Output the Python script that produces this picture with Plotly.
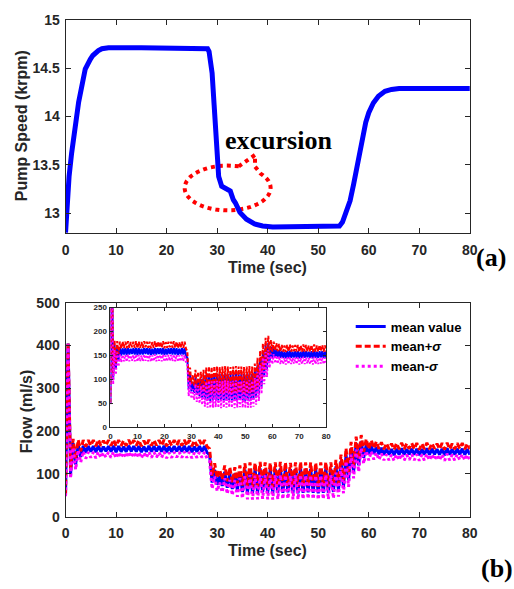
import math
import plotly.graph_objects as go

# ---------------- pump speed (panel a) ----------------
pump_t = [0, 0.3, 0.7, 1.2, 1.7, 2.6, 3.9, 4.4, 4.9, 5.4, 5.9, 6.5, 7.2, 8.5, 15, 20,
          27.8, 28.1, 28.4, 29.0, 29.4, 29.7, 30.0, 30.3, 30.9, 31.6, 32.3, 32.6,
          33.2, 33.6, 34.5, 34.8, 35.8, 37.4, 39.0, 41.0, 45, 50, 53.8, 54.2, 54.8,
          55.5, 56.3, 57.0, 57.6, 58.2, 58.8, 59.4, 60.0, 60.9, 61.9, 63.2, 64.5,
          66, 70, 80]
pump_krpm = [12.8, 13.1, 13.38, 13.62, 13.83, 14.15, 14.49, 14.55, 14.59, 14.63,
             14.66, 14.68, 14.70, 14.71, 14.71, 14.71,
             14.71, 14.70, 14.67, 14.45, 14.12, 13.78, 13.48, 13.38, 13.28, 13.26,
             13.24, 13.23, 13.14, 13.11, 13.01, 12.99, 12.94, 12.89, 12.87, 12.86,
             12.86, 12.86, 12.86, 12.87, 12.91, 13.00, 13.13, 13.30, 13.47, 13.64,
             13.80, 13.94, 14.04, 14.14, 14.21, 14.26, 14.28, 14.29, 14.29, 14.29]

# ---------------- flow (panel b) ----------------
# one entry per heart beat (beat onsets at 0, 1, 2, ... s)
beat_t = list(range(81))
mean_trough = [50, 100, 122, 140, 150, 152, 151, 152, 153, 152, 151, 152, 152, 153,
               152, 151, 152, 152, 153, 152, 151, 152, 153, 152, 152, 151, 152, 152,
               150, 80, 75, 72, 68, 65, 62, 58, 56, 55, 56, 57, 56, 55, 56, 56,
               57, 56, 55, 56, 57, 56, 55, 56, 56, 58, 62, 70, 85, 105, 120, 138,
               145, 147, 146, 145, 145, 144, 145, 145, 146, 145, 144, 145, 145, 146,
               145, 144, 145, 145, 146, 145, 145]
mean_peak = [405, 172, 168, 166, 165, 165, 166, 164, 165, 166, 165, 164, 166, 165,
             165, 164, 166, 165, 165, 166, 164, 165, 165, 166, 165, 164, 165, 165,
             145, 110, 95, 105, 101, 101, 105, 110, 112, 111, 113, 112, 111, 112,
             113, 112, 111, 112, 113, 112, 112, 111, 112, 113, 112, 118, 130, 145,
             160, 172, 176, 168, 166, 163, 161, 159, 158, 159, 160, 158, 159, 159,
             158, 160, 159, 158, 159, 160, 158, 159, 159, 158]
flow_sd = [2, 10, 12, 13, 14, 14, 14, 14, 14, 14, 14, 14, 14, 14,
           14, 14, 14, 14, 14, 14, 14, 14, 14, 14, 14, 14, 14, 14,
           14, 15, 15, 15, 15, 15, 15, 15, 15, 15, 15, 15, 15, 15, 15, 15,
           15, 15, 15, 15, 15, 15, 15, 15, 15, 15, 15, 15, 15, 15, 15, 14,
           13, 13, 13, 13, 13, 13, 13, 13, 13, 13, 13, 13, 13, 13,
           13, 13, 13, 13, 13, 13, 13]

x_ticks = [0, 10, 20, 30, 40, 50, 60, 70, 80]
pump_ticks = [13, 13.5, 14, 14.5, 15]
pump_ticklabels = ["13", "13.5", "14", "14.5", "15"]
flow_ticks = [0, 100, 200, 300, 400, 500]
inset_ticks = [0, 50, 100, 150, 200, 250]


def pulse(shift):
    """Beat-by-beat waveform: trough at each onset, peak half a beat later."""
    t, v = [], []
    for k in range(len(mean_peak)):
        t += [beat_t[k], beat_t[k] + 0.5]
        v += [mean_trough[k] + shift * flow_sd[k], mean_peak[k] + shift * flow_sd[k]]
    t.append(beat_t[-1])
    v.append(mean_trough[-1] + shift * flow_sd[-1])
    return t, v


W, H = 514, 589
AX = "#262626"
SANS = "Liberation Sans, Arial, sans-serif"
SERIF = "Liberation Serif, Times New Roman, serif"


def px_x(p):
    return p / W


def px_y(p):
    return 1 - p / H


fig = go.Figure()

fig.add_trace(go.Scatter(x=pump_t, y=pump_krpm, mode="lines",
                         line=dict(color="#0000FF", width=5),
                         showlegend=False, xaxis="x", yaxis="y"))

series = [("mean value", 0, "#0000FF", "solid", "solid"),
          ("mean+<i>σ</i>", 1, "#FF0000", "6px,3px", "4px,2px"),
          ("mean-<i>σ</i>", -1, "#FF00FF", "dot", "2px,2px")]

for name, s, col, dash, _ in series:
    t, v = pulse(s)
    fig.add_trace(go.Scatter(x=t, y=v, mode="lines", name=name,
                             line=dict(color=col, width=3, dash=dash),
                             xaxis="x2", yaxis="y2"))
for name, s, col, _, dash_in in series:
    t, v = pulse(s)
    fig.add_trace(go.Scatter(x=t, y=v, mode="lines", showlegend=False,
                             line=dict(color=col, width=2, dash=dash_in),
                             xaxis="x3", yaxis="y3"))

tick_font = dict(family=SANS, size=14, color=AX, weight="bold")
common = dict(showline=True, linecolor=AX, linewidth=1, mirror="ticks",
              ticks="inside", ticklen=5, tickcolor=AX, showgrid=False,
              zeroline=False, tickfont=tick_font)
inset_common = dict(showline=True, linecolor=AX, linewidth=1, mirror="ticks",
                    ticks="inside", ticklen=3, tickcolor=AX, showgrid=False,
                    zeroline=False, ticklabelstandoff=1,
                    tickfont=dict(family=SANS, size=8, color=AX, weight="bold"))

x_dom = [px_x(63), px_x(477)]
fig.update_layout(
    width=W, height=H,
    margin=dict(l=0, r=0, t=0, b=0),
    paper_bgcolor="white", plot_bgcolor="white",
    xaxis=dict(domain=x_dom, range=[0, 80], tickvals=x_ticks, anchor="y",
               ticklabelstandoff=4, **common),
    yaxis=dict(domain=[px_y(231), px_y(12)], range=[12.8, 15], tickvals=pump_ticks,
               ticktext=pump_ticklabels, anchor="x", ticklabelstandoff=2, **common),
    xaxis2=dict(domain=x_dom, range=[0, 80], tickvals=x_ticks, anchor="y2",
                ticklabelstandoff=3, **common),
    yaxis2=dict(domain=[px_y(523), px_y(303)], range=[0, 500], tickvals=flow_ticks,
                anchor="x2", ticklabelstandoff=2, **common),
    xaxis3=dict(domain=[px_x(109), px_x(330)], range=[0, 80], tickvals=x_ticks,
                anchor="y3", **inset_common),
    yaxis3=dict(domain=[px_y(431), px_y(308)], range=[0, 250], tickvals=inset_ticks,
                anchor="x3", **inset_common),
    legend=dict(x=px_x(355), y=px_y(312), xanchor="left", yanchor="top",
                bgcolor="rgba(0,0,0,0)", borderwidth=0,
                font=dict(family=SANS, size=13, color="black", weight="bold"),
                tracegroupgap=0, itemwidth=30),
)

title_font = dict(family=SANS, size=16, color=AX, weight="bold")
annos = [
    dict(text="Pump Speed (krpm)", x=px_x(18), y=px_y(121), textangle=-90),
    dict(text="Time (sec)", x=px_x(270), y=px_y(267)),
    dict(text="Flow (ml/s)", x=px_x(23), y=px_y(414), textangle=-90),
    dict(text="Time (sec)", x=px_x(270), y=px_y(558)),
]
for a in annos:
    fig.add_annotation(xref="paper", yref="paper", showarrow=False,
                       xanchor="center", yanchor="middle", font=title_font, **a)

serif_font = dict(family=SERIF, size=26, color="black", weight="bold")
fig.add_annotation(text="excursion", xref="paper", yref="paper", x=px_x(224), y=px_y(136),
                   xanchor="left", yanchor="middle", showarrow=False, font=serif_font)
fig.add_annotation(text="(a)", xref="paper", yref="paper", x=px_x(481), y=px_y(256),
                   xanchor="left", yanchor="middle", showarrow=False, font=serif_font)
fig.add_annotation(text="(b)", xref="paper", yref="paper", x=px_x(486), y=px_y(576),
                   xanchor="left", yanchor="middle", showarrow=False, font=serif_font)

# dotted callout bubble around the speed excursion, drawn in pixel space
cx, cy, rx, ry = 229, 185, 44, 23
pts = []
for i in range(0, 61):
    th = math.radians(75 + i * (325 / 60))
    pts.append((cx + rx * math.cos(th), cy - ry * math.sin(th)))
pts += [(257, 163), (257, 151), (cx + rx * math.cos(math.radians(75)),
                                  cy - ry * math.sin(math.radians(75)))]
path = "M " + " L ".join(f"{px_x(x):.5f},{px_y(y):.5f}" for x, y in pts)
fig.add_shape(type="path", path=path, xref="paper", yref="paper",
              line=dict(color="#FF0000", width=4, dash="dot"), layer="below")

fig.write_html("out.html")
